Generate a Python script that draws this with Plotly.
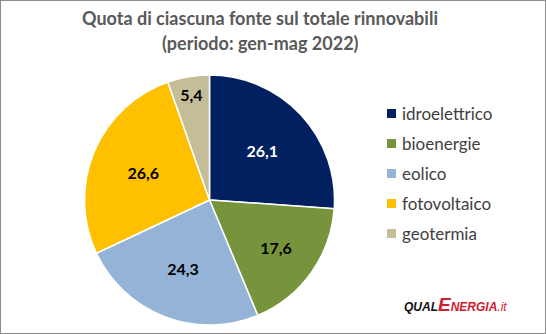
import plotly.graph_objects as go

labels = ["idroelettrico", "bioenergie", "eolico", "fotovoltaico", "geotermia"]
values = [26.1, 17.6, 24.3, 26.6, 5.4]
colors = ["#002060", "#77933C", "#95B3D7", "#FFC000", "#C4BD97"]
text_colors = ["#FFFFFF", "#000000", "#000000", "#000000", "#000000"]
text_labels = [f"{v:.1f}".replace(".", ",") for v in values]

W, H = 546, 334
fig = go.Figure()
fig.add_trace(go.Pie(
    labels=labels, values=values, sort=False, direction="clockwise", rotation=0,
    marker=dict(colors=colors, line=dict(color="#FFFFFF", width=1.5)),
    text=text_labels, textinfo="text", textposition="inside",
    insidetextorientation="horizontal",
    textfont=dict(family="Lato", size=16, color=text_colors, weight="bold"),
    domain=dict(x=[84.5 / W, 334.5 / W], y=[(H - 325) / H, (H - 75) / H]),
    hoverinfo="label+percent", showlegend=False,
))

# manual legend (Excel-style spacing)
shapes = [dict(type="rect", xref="paper", yref="paper", x0=0, y0=0, x1=1, y1=1,
               line=dict(color="#8C8C8C", width=2))]
annotations = []
for i, (lab, col) in enumerate(zip(labels, colors)):
    yc = 113.5 + 30 * i
    shapes.append(dict(type="rect", xref="paper", yref="paper",
                       x0=387 / W, x1=396 / W, y0=(H - yc - 4.5) / H, y1=(H - yc + 4.5) / H,
                       fillcolor=col, line=dict(width=0)))
    annotations.append(dict(text=lab, x=400 / W, y=(H - yc) / H, xref="paper", yref="paper",
                            showarrow=False, xanchor="left", yanchor="middle",
                            font=dict(size=17, color="#404040", family="Lato")))

annotations += [
    dict(text="<b>Quota di ciascuna fonte sul totale rinnovabili</b>", x=260 / W, y=(H - 18) / H,
         xref="paper", yref="paper", showarrow=False, xanchor="center", yanchor="middle",
         font=dict(size=18, color="#595959", family="Lato")),
    dict(text="<b>(periodo: gen-mag 2022)</b>", x=260 / W, y=(H - 43) / H,
         xref="paper", yref="paper", showarrow=False, xanchor="center", yanchor="middle",
         font=dict(size=18, color="#595959", family="Lato")),
    dict(text="<b><i>QUAL</i></b><span style='color:#D0202E'><b><i><span style='font-size:19px'>E</span>NERGIA</i></b><i>.it</i></span>",
         x=455 / W, y=(H - 304) / H, xref="paper", yref="paper", showarrow=False,
         xanchor="center", yanchor="middle",
         font=dict(size=12, color="#111111", family="Liberation Sans")),
]

fig.update_layout(
    width=W, height=H, margin=dict(l=0, r=0, t=0, b=0),
    paper_bgcolor="white", plot_bgcolor="white",
    font=dict(family="Lato", color="#404040"),
    showlegend=False,
    annotations=annotations, shapes=shapes,
)

fig.write_html("out.html")
